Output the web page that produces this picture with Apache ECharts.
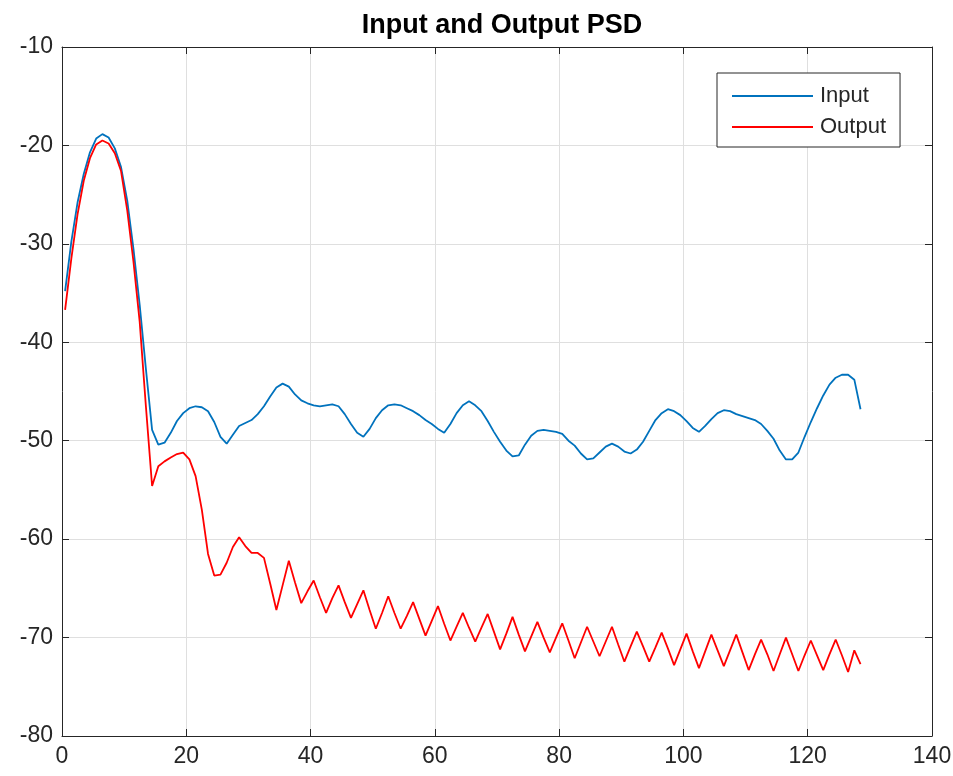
<!DOCTYPE html>
<html>
<head>
<meta charset="utf-8">
<title>Input and Output PSD</title>
<script src="https://cdn.jsdelivr.net/npm/echarts@6/dist/echarts.min.js"></script>
<style>
  html, body { margin: 0; padding: 0; background: #ffffff; }
  #chart { width: 953px; height: 776px; }
</style>
</head>
<body>
<div id="chart"></div>
<script>
// Frequency bins: first bin centre and spacing
const freqStart = 0.5;
const freqStep = 1;

// PSD of the input signal (dB), one value per bin
const inputPsd = [
  -34.8, -29.8, -25.8, -22.9, -20.7, -19.3, -18.85, -19.2, -20.3, -22.2,
  -25.6, -30.5, -36.2, -42.7, -48.9, -50.4, -50.2, -49.2, -48.0, -47.2,
  -46.7, -46.5, -46.6, -47.0, -48.1, -49.6, -50.3, -49.4, -48.5, -48.2,
  -47.9, -47.3, -46.5, -45.5, -44.6, -44.2, -44.5, -45.3, -45.9, -46.2,
  -46.4, -46.5, -46.4, -46.3, -46.5, -47.3, -48.3, -49.2, -49.6, -48.8,
  -47.7, -46.9, -46.4, -46.3, -46.4, -46.7, -47.0, -47.4, -47.9, -48.3,
  -48.8, -49.2, -48.3, -47.2, -46.4, -46.0, -46.4, -47.0, -48.0, -49.1,
  -50.1, -51.0, -51.6, -51.5, -50.4, -49.5, -49.0, -48.9, -49.0, -49.1,
  -49.3, -50.0, -50.5, -51.3, -51.9, -51.8, -51.2, -50.6, -50.3, -50.6,
  -51.1, -51.3, -50.9, -50.1, -49.0, -47.9, -47.2, -46.8, -47.0, -47.4,
  -48.0, -48.7, -49.1, -48.5, -47.8, -47.2, -46.9, -47.0, -47.3, -47.5,
  -47.7, -47.9, -48.3, -49.0, -49.8, -51.0, -51.9, -51.9, -51.2, -49.6,
  -48.1, -46.7, -45.4, -44.3, -43.6, -43.3, -43.3, -43.8, -46.8
];

// PSD of the filtered output signal (dB), one value per bin
const outputPsd = [
  -36.7, -31.5, -27.0, -23.6, -21.3, -19.9, -19.5, -19.8, -20.8, -22.6,
  -26.6, -31.8, -37.9, -46.5, -54.6, -52.6, -52.1, -51.7, -51.35, -51.2,
  -51.9, -53.6, -57.0, -61.5, -63.7, -63.6, -62.4, -60.8, -59.8, -60.7,
  -61.4, -61.4, -61.9, -64.5, -67.2, -64.7, -62.2, -64.4, -66.5, -65.3,
  -64.2, -65.9, -67.5, -66.0, -64.7, -66.4, -68.0, -66.6, -65.2, -67.2,
  -69.1, -67.5, -65.8, -67.5, -69.1, -67.8, -66.4, -68.1, -69.8, -68.3,
  -66.8, -68.6, -70.3, -68.9, -67.5, -69.0, -70.4, -69.0, -67.6, -69.4,
  -71.2, -69.6, -67.9, -69.7, -71.4, -69.9, -68.4, -70.0, -71.5, -70.0,
  -68.55, -70.3, -72.1, -70.5, -68.9, -70.4, -71.9, -70.4, -68.9, -70.7,
  -72.45, -70.9, -69.4, -70.9, -72.45, -71.0, -69.5, -71.1, -72.8, -71.2,
  -69.6, -71.4, -73.1, -71.4, -69.7, -71.3, -72.9, -71.3, -69.7, -71.5,
  -73.3, -71.7, -70.2, -71.7, -73.4, -71.7, -70.0, -71.7, -73.4, -71.8,
  -70.3, -71.8, -73.3, -71.7, -70.2, -71.8, -73.5, -71.3, -72.7
];

const xTicks = { min: 0, max: 140, step: 20 };
const yTicks = { min: -80, max: -10, step: 10 };

const toPairs = vals => vals.map((v, i) => [freqStart + i * freqStep, v]);

const axisColor = '#262626';
const gridColor = '#dfdfdf';
const fontFamily = '"Liberation Sans", Arial, Helvetica, sans-serif';

const chart = echarts.init(document.getElementById('chart'), null, { renderer: 'canvas' });

const tickStyle = { show: true, inside: true, length: 7, lineStyle: { color: axisColor, width: 1 } };
const lineStyleAxis = { show: true, onZero: false, lineStyle: { color: axisColor, width: 1 } };

chart.setOption({
  animation: false,
  backgroundColor: '#ffffff',
  title: {
    text: 'Input and Output PSD',
    left: 497,
    top: 7,
    textAlign: 'center',
    textStyle: { fontFamily, fontSize: 27, fontWeight: 'bold', color: '#000000' }
  },
  legend: {
    orient: 'vertical',
    left: 717,
    top: 73,
    padding: [12, 14, 9, 15],
    itemGap: 9,
    itemWidth: 81,
    itemHeight: 2,
    icon: 'rect',
    backgroundColor: '#ffffff',
    borderColor: axisColor,
    borderWidth: 1,
    textStyle: { fontFamily, fontSize: 22, color: axisColor, lineHeight: 22, padding: [0, 0, 0, 2] },
    data: ['Input', 'Output']
  },
  grid: {
    left: 62, right: 21, top: 47, bottom: 40,
    containLabel: false,
    outerBoundsMode: 'none'
  },
  xAxis: [
    {
      type: 'value', position: 'bottom',
      min: xTicks.min, max: xTicks.max, interval: xTicks.step,
      axisLine: lineStyleAxis, axisTick: tickStyle,
      axisLabel: { color: axisColor, fontFamily, fontSize: 23, margin: 9 },
      splitLine: { show: true, lineStyle: { color: gridColor, width: 1 } }
    },
    {
      type: 'value', position: 'top',
      min: xTicks.min, max: xTicks.max, interval: xTicks.step,
      axisLine: lineStyleAxis, axisTick: tickStyle,
      axisLabel: { show: false }, splitLine: { show: false }
    }
  ],
  yAxis: [
    {
      type: 'value', position: 'left',
      min: yTicks.min, max: yTicks.max, interval: yTicks.step,
      axisLine: lineStyleAxis, axisTick: tickStyle,
      axisLabel: { color: axisColor, fontFamily, fontSize: 23, margin: 9 },
      splitLine: { show: true, lineStyle: { color: gridColor, width: 1 } }
    },
    {
      type: 'value', position: 'right',
      min: yTicks.min, max: yTicks.max, interval: yTicks.step,
      axisLine: lineStyleAxis, axisTick: tickStyle,
      axisLabel: { show: false }, splitLine: { show: false }
    }
  ],
  series: [
    {
      name: 'Input', type: 'line',
      xAxisIndex: 0, yAxisIndex: 0,
      data: toPairs(inputPsd),
      showSymbol: false, symbol: 'none',
      lineStyle: { color: '#0072BD', width: 1.8 },
      itemStyle: { color: '#0072BD' }
    },
    {
      name: 'Output', type: 'line',
      xAxisIndex: 0, yAxisIndex: 0,
      data: toPairs(outputPsd),
      showSymbol: false, symbol: 'none',
      lineStyle: { color: '#FF0000', width: 1.8 },
      itemStyle: { color: '#FF0000' }
    }
  ]
});
</script>
</body>
</html>
